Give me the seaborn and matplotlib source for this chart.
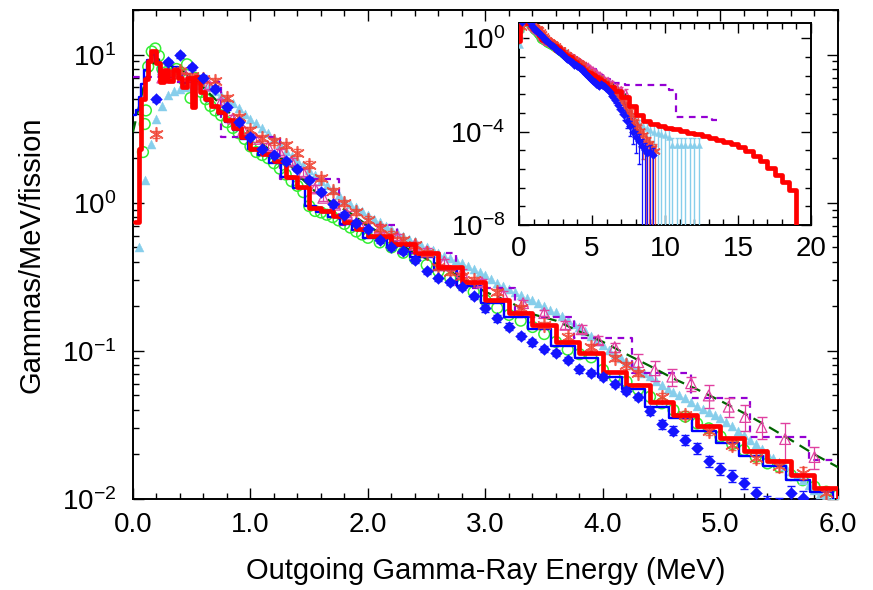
import matplotlib
matplotlib.use("Agg")
import matplotlib.pyplot as plt
import seaborn as sns
from matplotlib.ticker import MultipleLocator, FixedLocator, FormatStrFormatter, NullFormatter, LogLocator

# ---------------------------------------------------------------- data
# thick red histogram (bin edges / contents, gammas/MeV/fission)
red_edges = [0.02, 0.05, 0.07, 0.10, 0.13, 0.15, 0.20, 0.23, 0.26, 0.30, 0.34, 0.38, 0.42,
             0.46, 0.50, 0.53, 0.57, 0.61, 0.66, 0.72, 0.78, 0.85, 0.92, 1.0, 1.1, 1.2, 1.3,
             1.4, 1.5, 1.6, 1.7, 1.8, 1.9, 2.0, 2.2, 2.4, 2.6, 2.8, 3.0, 3.2, 3.4, 3.6, 3.8,
             4.0, 4.2, 4.4, 4.6, 4.8, 5.0, 5.2, 5.4, 5.6, 5.8, 6.0, 6.5, 7.0, 7.5, 8.0, 8.5,
             9.0, 9.5, 10.0, 10.5, 11.0, 11.5, 12.0, 12.5, 13.0, 13.5, 14.0, 14.5, 15.0, 15.5,
             16.0, 16.5, 17.0, 17.5, 18.0, 18.5, 19.0]
red_vals = [0.74, 2.3, 5.0, 6.8, 9.0, 10.5, 8.8, 6.5, 7.9, 6.6, 7.9, 7.0, 6.0, 6.9, 4.4, 7.1,
            5.6, 5.0, 4.5, 4.1, 3.6, 3.2, 2.8, 2.3, 2.15, 1.9, 1.5, 1.28, 0.92, 0.88, 0.82, 0.74,
            0.67, 0.60, 0.53, 0.46, 0.37, 0.29, 0.22, 0.18, 0.15, 0.115, 0.097, 0.072, 0.059,
            0.045, 0.037, 0.031, 0.026, 0.021, 0.018, 0.0145, 0.0119, 0.0085, 0.0055, 0.0030,
            0.0013, 5.0e-4, 2.8e-4, 2.1e-4, 1.75e-4, 1.5e-4, 1.25e-4, 1.07e-4, 9.1e-5, 7.8e-5,
            6.6e-5, 5.5e-5, 4.6e-5, 3.7e-5, 2.95e-5, 2.2e-5, 1.5e-5, 9.3e-6, 5.4e-6, 2.8e-6,
            1.4e-6, 7.1e-7, 3.2e-7]

# thin blue histogram
blue_edges = [0.0, 0.03, 0.05, 0.07, 0.09, 0.12, 0.15, 0.19, 0.22, 0.26, 0.30, 0.34, 0.38,
              0.42, 0.46, 0.50, 0.54, 0.58, 0.62, 0.67, 0.72, 0.78, 0.85, 0.92, 0.98, 1.06,
              1.16, 1.26, 1.36, 1.46, 1.56, 1.66, 1.76, 1.86, 1.96, 2.16, 2.36, 2.56, 2.76,
              2.96, 3.16, 3.36, 3.56, 3.76, 3.96, 4.16, 4.36, 4.56, 4.76, 4.96, 5.16, 5.36,
              5.56, 5.76, 5.96, 6.16, 6.36, 6.56, 6.76, 6.96, 7.16, 7.36, 7.56, 7.76, 7.96,
              8.16, 8.36]
blue_vals = [3.9, 4.2, 5.2, 6.3, 7.9, 9.2, 10.0, 9.0, 7.2, 7.6, 7.0, 8.2, 7.4, 6.4, 7.0, 5.2,
             6.8, 5.5, 4.9, 4.4, 4.0, 3.5, 3.1, 2.7, 2.3, 2.1, 1.85, 1.5, 1.25, 0.95, 0.86,
             0.80, 0.72, 0.65, 0.58, 0.51, 0.43, 0.35, 0.275, 0.21, 0.17, 0.14, 0.108, 0.090,
             0.067, 0.055, 0.042, 0.035, 0.029, 0.024, 0.0195, 0.0168, 0.0135, 0.0112, 0.0092,
             0.0075, 0.0060, 0.0047, 0.0036, 0.0026, 0.0016, 6.0e-4, 3.5e-4, 2.0e-4, 1.2e-4,
             8.0e-5]

# purple dashed coarse histogram
purple_edges = [0.0, 0.25, 0.75, 1.25, 1.75, 2.25, 2.75, 3.25, 3.75, 4.25, 4.75, 5.25, 5.75,
                6.25, 7.25, 10.25, 10.75, 13.25, 13.75]
purple_vals = [7.1, 6.5, 2.8, 1.45, 0.71, 0.46, 0.267, 0.17, 0.122, 0.071, 0.048, 0.0263,
               0.0184, 0.012, 0.0100, 0.006, 4.3e-4, 3.2e-4]

# dark green dashed curve
dkgreen_E = [0.0, 0.1, 0.2, 0.3, 0.4, 0.5, 0.6, 0.7, 0.8, 0.9, 1.0, 1.1, 1.2, 1.32, 1.44,
             1.56, 1.7, 1.85, 2.0, 2.2, 2.4, 2.6, 2.8, 3.0, 3.2, 3.4, 3.6, 3.8, 4.0, 4.2, 4.4,
             4.6, 4.8, 5.0, 5.2, 5.4, 5.6, 5.8, 6.0, 6.25, 6.5, 6.75, 7.0, 7.25, 7.5]
dkgreen_v = [3.0, 6.5, 9.5, 8.5, 8.0, 7.0, 6.0, 5.0, 4.2, 3.5, 2.9, 2.5, 2.15, 1.86, 1.45,
             1.17, 1.0, 0.85, 0.70, 0.56, 0.46, 0.38, 0.31, 0.25, 0.215, 0.177, 0.16, 0.135,
             0.115, 0.095, 0.079, 0.065, 0.055, 0.046, 0.038, 0.031, 0.025, 0.020, 0.0164,
             0.0125, 0.0095, 0.0072, 0.0054, 0.0040, 0.0030]

# green open circles
green_E = [0.085, 0.10, 0.11, 0.13, 0.16, 0.19, 0.22, 0.25, 0.28, 0.31, 0.34, 0.37, 0.40,
           0.43, 0.46, 0.49, 0.52, 0.55, 0.58, 0.62, 0.66, 0.70, 0.75, 0.80, 0.85, 0.90,
           0.95, 1.00, 1.05, 1.10, 1.15, 1.20, 1.25, 1.30, 1.35, 1.40, 1.45, 1.50, 1.55,
           1.60, 1.65, 1.70, 1.75, 1.80, 1.85, 1.90, 1.95, 2.00, 2.10, 2.20, 2.30, 2.40,
           2.50, 2.60, 2.70, 2.80, 2.90, 3.00, 3.10, 3.20, 3.30, 3.40, 3.50, 3.60, 3.70,
           3.80, 3.90, 4.00, 4.10, 4.20, 4.30, 4.40, 4.50, 4.60, 4.70, 4.80, 4.90, 5.00,
           5.10, 5.20, 5.30, 5.40, 5.50, 5.60, 5.70, 5.80, 5.90, 6.00, 6.20, 6.40, 6.60,
           6.80, 7.00]
green_v = [2.2, 3.4, 4.2, 8.3, 10.5, 11.0, 9.8, 8.0, 7.6, 7.2, 7.4, 8.0, 7.6, 6.8, 8.6, 5.1,
           7.0, 6.6, 5.6, 5.0, 4.5, 4.2, 3.9, 3.5, 3.2, 2.95, 2.7, 2.4, 2.2, 2.1, 2.0, 1.85,
           1.7, 1.55, 1.4, 1.3, 1.18, 0.95, 0.88, 0.86, 0.83, 0.80, 0.76, 0.72, 0.68, 0.64,
           0.61, 0.58, 0.54, 0.50, 0.46, 0.42, 0.38, 0.345, 0.31, 0.28, 0.25, 0.22, 0.195,
           0.175, 0.16, 0.145, 0.13, 0.115, 0.102, 0.095, 0.0905, 0.0745, 0.0664, 0.062,
           0.055, 0.049, 0.0443, 0.0399, 0.036, 0.0324, 0.030, 0.0264, 0.0235, 0.0214,
           0.0193, 0.0174, 0.0165, 0.0145, 0.0134, 0.0121, 0.0112, 0.0106, 0.0085, 0.0068,
           0.0055, 0.0045, 0.0036]

# light-blue filled triangles
sky_E = [round(0.05 * k, 2) for k in range(1, 121)] + \
        [6.25, 6.5, 6.75, 7.0, 7.25, 7.5, 7.75, 8.0, 8.25, 8.5, 8.75, 9.0, 9.25, 9.5, 9.75,
         10.0, 10.25, 10.5, 10.8, 11.1, 11.4, 11.7, 12.0, 12.3]
sky_v = [0.50, 1.43, 2.5, 3.7, 4.5, 5.3, 5.7, 5.9, 6.0, 6.1, 6.2, 6.2, 6.0, 5.7, 5.3, 5.0,
         4.7, 4.35, 4.0, 3.7, 3.45, 3.2, 2.95, 2.75, 2.5, 2.25, 2.08, 1.95, 1.8, 1.66, 1.53,
         1.41, 1.31, 1.23, 1.13, 1.05, 0.98, 0.93, 0.88, 0.83, 0.78, 0.74, 0.70, 0.66, 0.63,
         0.60, 0.57, 0.55, 0.52, 0.50, 0.48, 0.457, 0.44, 0.427, 0.408, 0.39, 0.373, 0.355,
         0.34, 0.324, 0.305, 0.288, 0.275, 0.263, 0.251, 0.240, 0.229, 0.219, 0.209, 0.200,
         0.19, 0.182, 0.172, 0.162, 0.153, 0.145, 0.136, 0.126, 0.117, 0.110, 0.102, 0.095,
         0.089, 0.085, 0.080, 0.076, 0.071, 0.0676, 0.0630, 0.0589, 0.0555, 0.0525, 0.0500,
         0.0479, 0.0452, 0.0427, 0.0407, 0.0389, 0.0372, 0.0355, 0.0331, 0.0309, 0.0288,
         0.0269, 0.0251, 0.0234, 0.0218, 0.0204, 0.0190, 0.0178, 0.0166, 0.0155, 0.0144,
         0.0135, 0.0124, 0.0115, 0.0108, 0.0105, 0.0100, 0.0098,
         0.0072, 0.0050, 0.0034, 0.0022, 0.0014, 1.0e-3, 5.0e-4, 3.0e-4, 2.2e-4, 1.7e-4,
         1.4e-4, 1.2e-4, 1.0e-4, 9.0e-5, 8.0e-5, 7.0e-5, 6.0e-5, 2.7e-5, 2.7e-5, 2.7e-5,
         2.7e-5, 2.7e-5, 2.7e-5, 2.7e-5]
sky_tail_E = sky_E[120:]
sky_tail_relerr = [0.05, 0.06, 0.08, 0.1, 0.15, 0.2, 0.3, 0.4, 0.5, 0.6, 0.7, 0.8, 0.9, 1.0,
                   1.0, 1.0, 1.0, 1.0, 1.0, 1.0, 1.0, 1.0, 1.0, 1.0]

# blue filled diamonds with error bars
dia_E = [round(0.1 * k, 1) for k in range(2, 58)] + \
        [5.8, 5.9, 6.0, 6.2, 6.4, 6.6, 6.8, 7.0, 7.2, 7.4, 7.6, 7.8, 8.0, 8.2, 8.4, 8.6,
         8.8, 9.0, 9.2]
dia_v = [5.0, 8.9, 9.9, 8.2, 7.0, 5.9, 4.4, 3.5, 2.8, 2.3, 2.1, 1.9, 1.7, 1.43, 1.19, 0.98,
         0.83, 0.73, 0.66, 0.56, 0.50, 0.47, 0.41, 0.345, 0.31, 0.29, 0.268, 0.233, 0.194,
         0.166, 0.146, 0.126, 0.114, 0.103, 0.097, 0.087, 0.075, 0.071, 0.067, 0.060, 0.054,
         0.049, 0.039, 0.032, 0.029, 0.025, 0.022, 0.018, 0.016, 0.0144, 0.0128, 0.011,
         0.0095, 0.0092, 0.011, 0.0101,
         0.0088, 0.0078, 0.0068, 0.0050, 0.0034, 0.0022, 0.0014, 8.5e-4, 5.2e-4, 3.0e-4,
         1.7e-4, 1.0e-4, 6.0e-5, 4.0e-5, 2.5e-5, 1.6e-5, 1.2e-5, 1.4e-5, 1.0e-5]
dia_relerr = [0.04] * 28 + [0.05] * 15 + \
             [0.07, 0.07, 0.08, 0.08, 0.08, 0.09, 0.09, 0.09, 0.10, 0.10, 0.11, 0.11, 0.12] + \
             [0.12, 0.13, 0.15, 0.18, 0.20, 0.25, 0.30, 0.35, 0.40, 0.50, 0.60, 0.70, 0.80,
              0.90, 1.0, 1.0, 1.0, 1.0, 1.0]

# red asterisks with error bars
ast_E = [0.2, 0.3, 0.4, 0.5, 0.6, 0.7, 0.8, 0.9, 1.0, 1.1, 1.2, 1.3, 1.4, 1.5, 1.6, 1.7, 1.8,
         1.9, 2.0, 2.1, 2.2, 2.3, 2.4, 2.5, 2.6, 2.7, 2.8, 2.9, 3.1, 3.3, 3.5, 3.7, 3.9, 4.1,
         4.2, 4.3, 4.5, 4.7, 4.9, 5.1, 5.3, 5.5, 5.7, 5.9,
         6.1, 6.3, 6.5, 6.7, 6.9, 7.1, 7.3, 7.5, 7.7, 7.9, 8.1, 8.3, 8.5, 8.7, 8.9, 9.1, 9.3]
ast_v = [2.9, 7.5, 7.8, 7.2, 6.8, 6.6, 5.1, 3.8, 3.1, 2.75, 2.6, 2.46, 2.18, 1.81, 1.47, 1.2,
         1.0, 0.87, 0.77, 0.68, 0.61, 0.56, 0.52, 0.46, 0.37, 0.34, 0.32, 0.30, 0.25, 0.195,
         0.15, 0.125, 0.106, 0.09, 0.08, 0.071, 0.049, 0.037, 0.029, 0.023, 0.019, 0.0166,
         0.015, 0.011,
         0.0095, 0.0075, 0.0058, 0.0043, 0.0030, 0.0020, 0.0013, 8.0e-4, 5.0e-4, 3.0e-4,
         1.8e-4, 1.1e-4, 7.0e-5, 4.5e-5, 3.0e-5, 2.0e-5, 1.5e-5]
ast_relerr = [0.05] * 36 + [0.06, 0.06, 0.07, 0.07, 0.08, 0.08, 0.09, 0.10] + \
             [0.12, 0.14, 0.16, 0.2, 0.25, 0.3, 0.35, 0.4, 0.5, 0.6, 0.7, 0.8, 0.9, 1.0, 1.0,
              1.0, 1.0]

# magenta open triangles with error bars
tri_E = [0.25, 0.35, 0.45, 0.55, 0.65, 0.75, 0.85, 0.94, 1.05, 1.15, 1.25, 1.35, 1.45, 1.55,
         1.62, 1.72, 1.82, 1.93, 2.1, 2.25, 2.4, 2.5, 2.65, 2.8, 2.97, 3.15, 3.32, 3.5, 3.68,
         3.82, 3.96, 4.1, 4.3, 4.44, 4.59, 4.75, 4.9, 5.07, 5.21, 5.35, 5.55, 5.8,
         6.1, 6.4, 6.7, 7.0, 7.3]
tri_v = [7.0, 7.5, 7.2, 6.8, 6.2, 4.8, 3.7, 3.1, 2.7, 2.4, 2.2, 1.9, 1.6, 1.25, 1.08, 0.97,
         0.84, 0.71, 0.67, 0.59, 0.52, 0.47, 0.40, 0.34, 0.29, 0.24, 0.21, 0.18, 0.15, 0.14,
         0.118, 0.106, 0.084, 0.074, 0.067, 0.0605, 0.050, 0.042, 0.0358, 0.0306, 0.0254,
         0.0192,
         0.015, 0.011, 0.008, 0.006, 0.0045]
tri_relerr = [0.05] * 28 + [0.06, 0.06, 0.06, 0.07, 0.14, 0.15, 0.13, 0.11, 0.18, 0.15, 0.20,
                            0.17, 0.28, 0.17] + [0.25, 0.3, 0.35, 0.4, 0.45]

# ---------------------------------------------------------------- style
sns.set_theme(style="ticks")
plt.rcParams.update({
    "font.family": ["Liberation Sans", "DejaVu Sans"],
    "mathtext.fontset": "custom",
    "mathtext.rm": "Liberation Sans",
    "mathtext.it": "Liberation Sans:italic",
    "mathtext.bf": "Liberation Sans:bold",
    "mathtext.default": "regular",
    "axes.unicode_minus": False,
    "axes.edgecolor": "black",
    "axes.labelcolor": "black",
    "xtick.color": "black",
    "ytick.color": "black",
    "text.color": "black",
    "axes.linewidth": 1.4,
})

C_RED = "#ff0000"
C_BLUE = "#0000ff"
C_PURPLE = "#9400d3"
C_DKGREEN = "#006400"
C_GREEN = "#33ee33"
C_SKY = "#87ceeb"
C_DIA = "#1414ff"
C_AST = "#f04030"
C_TRI = "#e040a0"


def draw_step(ax, edges, values, color, lw, ls="-", z=3, drop=None):
    x = list(edges)
    y = list(values) + [values[-1]]
    if drop is not None:
        x.append(edges[-1])
        y.append(drop)
    sns.lineplot(x=x, y=y, drawstyle="steps-post", estimator=None, sort=False,
                 color=color, lw=lw, ls=ls, ax=ax, legend=False, zorder=z)


def draw_all(ax, scale):
    ms = scale
    sns.scatterplot(x=green_E, y=green_v, marker="o", s=60 * ms, facecolor="none",
                    edgecolor=C_GREEN, linewidth=1.1, ax=ax, legend=False, zorder=2)
    sns.scatterplot(x=sky_E, y=sky_v, marker="^", s=42 * ms, color=C_SKY,
                    edgecolor=C_SKY, linewidth=0.3, ax=ax, legend=False, zorder=3)
    sky_tail_v = sky_v[120:]
    ax.errorbar(sky_tail_E, sky_tail_v,
                yerr=[v * r for v, r in zip(sky_tail_v, sky_tail_relerr)],
                fmt="none", ecolor=C_SKY, elinewidth=1.0, capsize=2.5 * ms, zorder=3)
    draw_step(ax, purple_edges, purple_vals, C_PURPLE, 1.6, ls=(0, (3, 2.5)), z=4)
    sns.lineplot(x=dkgreen_E, y=dkgreen_v, estimator=None, sort=False, color=C_DKGREEN,
                 lw=1.6, ls=(0, (5, 3)), ax=ax, legend=False, zorder=4)
    draw_step(ax, blue_edges, blue_vals, C_BLUE, 1.7, z=5)
    ax.errorbar(tri_E, tri_v, yerr=[v * r for v, r in zip(tri_v, tri_relerr)],
                fmt="none", ecolor=C_TRI, elinewidth=0.9, capsize=3.5 * ms, zorder=6)
    sns.scatterplot(x=tri_E, y=tri_v, marker="^", s=60 * ms, facecolor="none",
                    edgecolor=C_TRI, linewidth=0.9, ax=ax, legend=False, zorder=6)
    ax.errorbar(ast_E, ast_v, yerr=[v * r for v, r in zip(ast_v, ast_relerr)],
                fmt="none", ecolor=C_AST, elinewidth=0.9, capsize=3 * ms, alpha=0.8,
                zorder=6)
    sns.scatterplot(x=ast_E, y=ast_v, marker=(6, 2, 0), s=95 * ms, color=C_AST,
                    linewidth=1.2, alpha=0.85, ax=ax, legend=False, zorder=6)
    draw_step(ax, red_edges, red_vals, C_RED, 3.4, z=7, drop=1e-12)
    ax.errorbar(dia_E, dia_v, yerr=[v * r for v, r in zip(dia_v, dia_relerr)],
                fmt="none", ecolor=C_DIA, elinewidth=0.9, capsize=3 * ms, zorder=8)
    sns.scatterplot(x=dia_E, y=dia_v, marker="D", s=36 * ms, color=C_DIA,
                    edgecolor=C_DIA, linewidth=0.3, ax=ax, legend=False, zorder=8)


# ---------------------------------------------------------------- figure
fig = plt.figure(figsize=(8.73, 5.90), dpi=100)
fig.patch.set_facecolor("white")

ax = fig.add_axes([0.1523, 0.1542, 0.8076, 0.8288])
ax.set_yscale("log")
draw_all(ax, 1.0)
ax.set_xlim(0, 6)
ax.set_ylim(0.01, 20)
ax.xaxis.set_major_locator(MultipleLocator(1.0))
ax.xaxis.set_minor_locator(MultipleLocator(0.2))
ax.xaxis.set_major_formatter(FormatStrFormatter("%.1f"))
ax.yaxis.set_major_locator(LogLocator(base=10, numticks=10))
ax.yaxis.set_minor_locator(LogLocator(base=10, subs=range(2, 10), numticks=20))
ax.yaxis.set_minor_formatter(NullFormatter())
ax.tick_params(which="both", direction="in", top=True, right=True, width=1.0,
               labelsize=20)
ax.tick_params(which="major", length=8)
ax.tick_params(which="minor", length=4)
ax.tick_params(axis="x", pad=9)
ax.tick_params(axis="y", pad=12)
ax.set_xlabel("Outgoing Gamma-Ray Energy (MeV)", fontsize=21, labelpad=14)
ax.set_ylabel("Gammas/MeV/fission", fontsize=21, labelpad=12)

# inset: full energy range
ins = fig.add_axes([0.5945, 0.6186, 0.3345, 0.3424])
ins.set_facecolor("white")
ins.set_yscale("log")
draw_all(ins, 0.45)
ins.set_xlim(0, 20)
ins.set_ylim(1e-8, 4.5)
ins.xaxis.set_major_locator(MultipleLocator(5))
ins.xaxis.set_minor_locator(MultipleLocator(1))
ins.yaxis.set_major_locator(FixedLocator([1e-8, 1e-4, 1.0]))
ins.yaxis.set_minor_locator(FixedLocator([10 ** (-0.8 * k) for k in range(1, 10) if k != 5]))
ins.yaxis.set_minor_formatter(NullFormatter())
ins.tick_params(which="both", direction="in", top=True, right=True, width=1.0,
                labelsize=20)
ins.tick_params(which="major", length=7)
ins.tick_params(which="minor", length=4)
ins.tick_params(axis="x", pad=8)
ins.tick_params(axis="y", pad=10)
ins.set_xlabel("")
ins.set_ylabel("")
for sp in ins.spines.values():
    sp.set_linewidth(1.4)

fig.savefig("out.png", dpi=100, facecolor="white")
